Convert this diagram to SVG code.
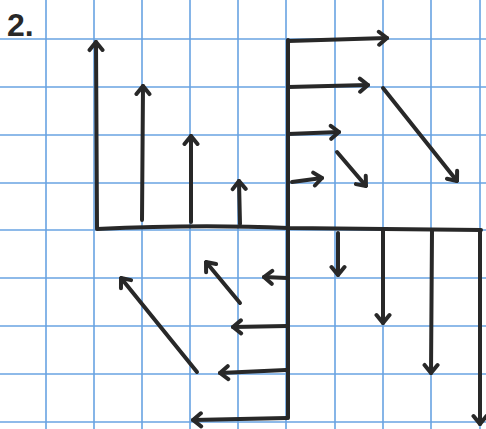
<svg xmlns="http://www.w3.org/2000/svg" width="486" height="429" viewBox="0 0 486 429">
<style>
.grid line{stroke:#68a3e2;stroke-width:1.6}
.ink{stroke:#282828;stroke-width:4;fill:none;stroke-linecap:round;stroke-linejoin:round}
.arr{marker-end:url(#head)}
.lbl{font-family:"Liberation Sans",Arial,sans-serif;font-size:32px;font-weight:bold;fill:#282828}
</style>
<defs>
<marker id="head" viewBox="-12 -9 14 18" refX="0" refY="0" markerWidth="14" markerHeight="18" markerUnits="userSpaceOnUse" orient="auto">
<path d="M-8,-6.5 L0,0 L-8,6.5" fill="none" stroke="#282828" stroke-width="4" stroke-linecap="round" stroke-linejoin="round"/>
</marker>
</defs>
<rect width="486" height="429" fill="#ffffff"/>
<g class="grid">
<line x1="46" y1="0" x2="46" y2="429"/>
<line x1="94" y1="0" x2="94" y2="429"/>
<line x1="142" y1="0" x2="142" y2="429"/>
<line x1="190" y1="0" x2="190" y2="429"/>
<line x1="238" y1="0" x2="238" y2="429"/>
<line x1="286" y1="0" x2="286" y2="429"/>
<line x1="335" y1="0" x2="335" y2="429"/>
<line x1="383" y1="0" x2="383" y2="429"/>
<line x1="431" y1="0" x2="431" y2="429"/>
<line x1="480" y1="0" x2="480" y2="429"/>
<line x1="0" y1="39" x2="486" y2="39"/>
<line x1="0" y1="87" x2="486" y2="87"/>
<line x1="0" y1="135" x2="486" y2="135"/>
<line x1="0" y1="183" x2="486" y2="183"/>
<line x1="0" y1="230" x2="486" y2="230"/>
<line x1="0" y1="278" x2="486" y2="278"/>
<line x1="0" y1="326" x2="486" y2="326"/>
<line x1="0" y1="374" x2="486" y2="374"/>
<line x1="0" y1="422" x2="486" y2="422"/>
</g>
<text class="lbl" x="7" y="36">2.</text>
<g id="axes" class="ink">
<path d="M97,229 Q200,224 288,228 L481,230"/>
<path d="M288,40 L288,418"/>
</g>
<g id="connectors" class="ink">
<path class="arr" d="M97,228 L96,42"/>
<path class="arr" d="M142,220 L143,86"/>
<path class="arr" d="M191,222 L191,136"/>
<path class="arr" d="M240,224 L239,181"/>
<path class="arr" d="M288,41 L387,38"/>
<path class="arr" d="M288,87 L368,85"/>
<path class="arr" d="M288,134 L339,132"/>
<path class="arr" d="M292,182 L322,178"/>
<path class="arr" d="M383,88 L457,181"/>
<path class="arr" d="M337,152 L366,186"/>
<path class="arr" d="M338,233 L338,275"/>
<path class="arr" d="M383,231 L383,323"/>
<path class="arr" d="M432,231 L431,373"/>
<path class="arr" d="M480,231 L480,424"/>
<path class="arr" d="M287,278 L264,277"/>
<path class="arr" d="M287,326 L233,327"/>
<path class="arr" d="M286,370 L220,373"/>
<path class="arr" d="M287,418 L193,420"/>
<path class="arr" d="M240,303 L206,262"/>
<path class="arr" d="M197,372 L121,278"/>
</g>
</svg>
